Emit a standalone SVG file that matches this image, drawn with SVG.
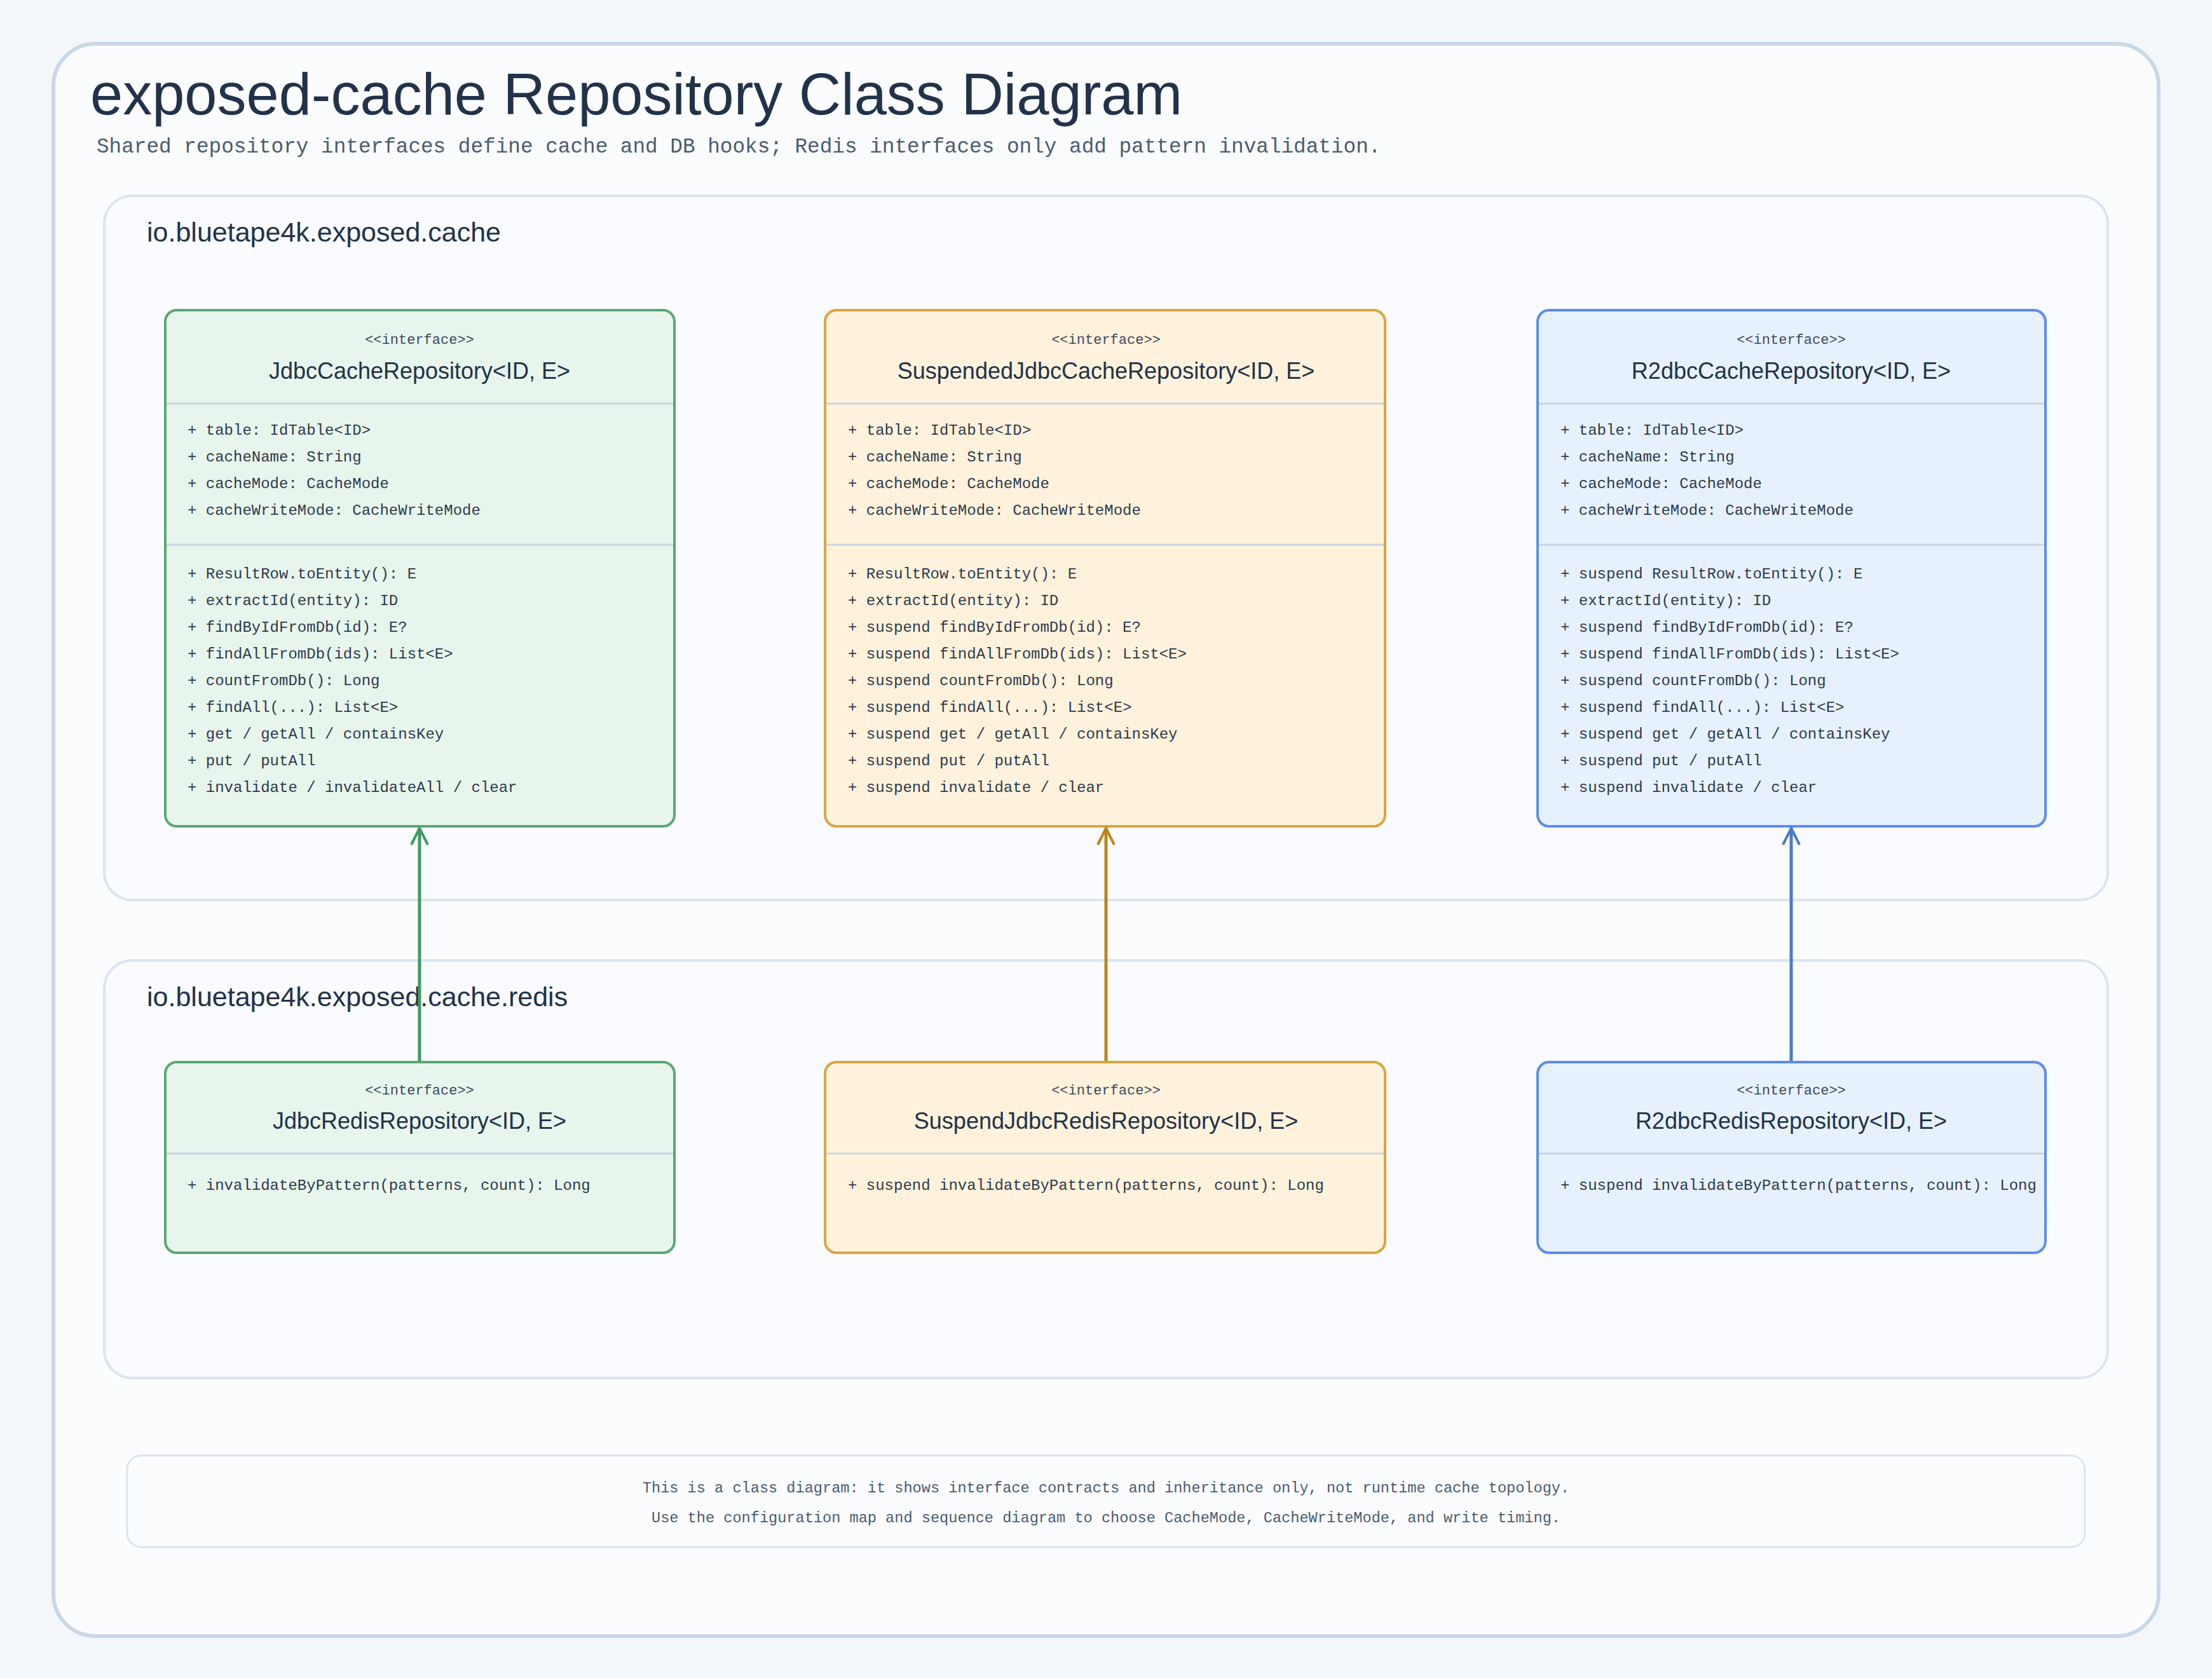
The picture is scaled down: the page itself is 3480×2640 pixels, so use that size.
<svg xmlns="http://www.w3.org/2000/svg" width="3480" height="2640" viewBox="0 0 3480 2640">
<defs>
<style>
.title{font-family:"Liberation Sans",sans-serif;font-size:92px;fill:#22324a}
.sub{font-family:"Liberation Mono",monospace;font-size:32.7px;fill:#4a5b70}
.pkg{font-family:"Liberation Sans",sans-serif;font-size:43px;fill:#22324a}
.pk{fill:#f9fbfe;stroke:#dbe5ef;stroke-width:4}
.st{font-family:"Liberation Mono",monospace;font-size:22px;fill:#3c4a5c;text-anchor:middle}
.nm{font-family:"Liberation Sans",sans-serif;font-size:36px;fill:#22324a;text-anchor:middle}
.mb{font-family:"Liberation Mono",monospace;font-size:24px;fill:#2d3a4c}
.div{stroke:#c9d5e3;stroke-width:3}
.g{fill:#e8f5ec;stroke:#5aa874;stroke-width:4}
.o{fill:#fff2dc;stroke:#d9a640;stroke-width:4}
.b{fill:#e7f1fd;stroke:#5b8def;stroke-width:4}
.ft{font-family:"Liberation Mono",monospace;font-size:23.6px;fill:#4a5b70;text-anchor:middle}
</style>
<marker id="ag" markerWidth="32" markerHeight="32" refX="29" refY="16" orient="auto" markerUnits="userSpaceOnUse" viewBox="0 0 32 32"><path d="M3,3 L29,16 L3,29" fill="none" stroke="#3f9a60" stroke-width="4"/></marker>
<marker id="ao" markerWidth="32" markerHeight="32" refX="29" refY="16" orient="auto" markerUnits="userSpaceOnUse" viewBox="0 0 32 32"><path d="M3,3 L29,16 L3,29" fill="none" stroke="#b8861c" stroke-width="4"/></marker>
<marker id="ab" markerWidth="32" markerHeight="32" refX="29" refY="16" orient="auto" markerUnits="userSpaceOnUse" viewBox="0 0 32 32"><path d="M3,3 L29,16 L3,29" fill="none" stroke="#4a7bc8" stroke-width="4"/></marker>
</defs>
<rect width="3480" height="2640" fill="#f4f7fa"/>
<rect x="84" y="69" width="3312" height="2505" rx="66" fill="#fbfcfe" stroke="#c9d8e8" stroke-width="6"/>
<text class="title" x="142" y="180">exposed-cache Repository Class Diagram</text>
<text class="sub" x="152" y="240">Shared repository interfaces define cache and DB hooks; Redis interfaces only add pattern invalidation.</text>
<g id="pkg-cache"><rect class="pk" x="164" y="308" width="3152" height="1108" rx="44"/><text class="pkg" x="231" y="380">io.bluetape4k.exposed.cache</text></g>
<g id="pkg-redis"><rect class="pk" x="164" y="1511" width="3152" height="657" rx="44"/><text class="pkg" x="231" y="1583">io.bluetape4k.exposed.cache.redis</text></g>

<g id="JdbcCacheRepository">
<rect class="g" x="260" y="488" width="801" height="812" rx="18"/>
<line class="div" x1="262" y1="635" x2="1059" y2="635"/><line class="div" x1="262" y1="857" x2="1059" y2="857"/>
<text class="st" x="660" y="541">&lt;&lt;interface&gt;&gt;</text>
<text class="nm" x="660" y="596">JdbcCacheRepository&lt;ID, E&gt;</text>
<text class="mb" x="295" y="684">+ table: IdTable&lt;ID&gt;</text>
<text class="mb" x="295" y="726">+ cacheName: String</text>
<text class="mb" x="295" y="768">+ cacheMode: CacheMode</text>
<text class="mb" x="295" y="810">+ cacheWriteMode: CacheWriteMode</text>
<text class="mb" x="295" y="910">+ ResultRow.toEntity(): E</text>
<text class="mb" x="295" y="952">+ extractId(entity): ID</text>
<text class="mb" x="295" y="994">+ findByIdFromDb(id): E?</text>
<text class="mb" x="295" y="1036">+ findAllFromDb(ids): List&lt;E&gt;</text>
<text class="mb" x="295" y="1078">+ countFromDb(): Long</text>
<text class="mb" x="295" y="1120">+ findAll(...): List&lt;E&gt;</text>
<text class="mb" x="295" y="1162">+ get / getAll / containsKey</text>
<text class="mb" x="295" y="1204">+ put / putAll</text>
<text class="mb" x="295" y="1246">+ invalidate / invalidateAll / clear</text>
</g>
<g id="SuspendedJdbcCacheRepository">
<rect class="o" x="1298" y="488" width="881" height="812" rx="18"/>
<line class="div" x1="1300" y1="635" x2="2177" y2="635"/><line class="div" x1="1300" y1="857" x2="2177" y2="857"/>
<text class="st" x="1740" y="541">&lt;&lt;interface&gt;&gt;</text>
<text class="nm" x="1740" y="596">SuspendedJdbcCacheRepository&lt;ID, E&gt;</text>
<text class="mb" x="1334" y="684">+ table: IdTable&lt;ID&gt;</text>
<text class="mb" x="1334" y="726">+ cacheName: String</text>
<text class="mb" x="1334" y="768">+ cacheMode: CacheMode</text>
<text class="mb" x="1334" y="810">+ cacheWriteMode: CacheWriteMode</text>
<text class="mb" x="1334" y="910">+ ResultRow.toEntity(): E</text>
<text class="mb" x="1334" y="952">+ extractId(entity): ID</text>
<text class="mb" x="1334" y="994">+ suspend findByIdFromDb(id): E?</text>
<text class="mb" x="1334" y="1036">+ suspend findAllFromDb(ids): List&lt;E&gt;</text>
<text class="mb" x="1334" y="1078">+ suspend countFromDb(): Long</text>
<text class="mb" x="1334" y="1120">+ suspend findAll(...): List&lt;E&gt;</text>
<text class="mb" x="1334" y="1162">+ suspend get / getAll / containsKey</text>
<text class="mb" x="1334" y="1204">+ suspend put / putAll</text>
<text class="mb" x="1334" y="1246">+ suspend invalidate / clear</text>
</g>
<g id="R2dbcCacheRepository">
<rect class="b" x="2419" y="488" width="799" height="812" rx="18"/>
<line class="div" x1="2421" y1="635" x2="3216" y2="635"/><line class="div" x1="2421" y1="857" x2="3216" y2="857"/>
<text class="st" x="2818" y="541">&lt;&lt;interface&gt;&gt;</text>
<text class="nm" x="2818" y="596">R2dbcCacheRepository&lt;ID, E&gt;</text>
<text class="mb" x="2455" y="684">+ table: IdTable&lt;ID&gt;</text>
<text class="mb" x="2455" y="726">+ cacheName: String</text>
<text class="mb" x="2455" y="768">+ cacheMode: CacheMode</text>
<text class="mb" x="2455" y="810">+ cacheWriteMode: CacheWriteMode</text>
<text class="mb" x="2455" y="910">+ suspend ResultRow.toEntity(): E</text>
<text class="mb" x="2455" y="952">+ extractId(entity): ID</text>
<text class="mb" x="2455" y="994">+ suspend findByIdFromDb(id): E?</text>
<text class="mb" x="2455" y="1036">+ suspend findAllFromDb(ids): List&lt;E&gt;</text>
<text class="mb" x="2455" y="1078">+ suspend countFromDb(): Long</text>
<text class="mb" x="2455" y="1120">+ suspend findAll(...): List&lt;E&gt;</text>
<text class="mb" x="2455" y="1162">+ suspend get / getAll / containsKey</text>
<text class="mb" x="2455" y="1204">+ suspend put / putAll</text>
<text class="mb" x="2455" y="1246">+ suspend invalidate / clear</text>
</g>
<g id="JdbcRedisRepository">
<rect class="g" x="260" y="1671" width="801" height="300" rx="18"/>
<line class="div" x1="262" y1="1815" x2="1059" y2="1815"/>
<text class="st" x="660" y="1722">&lt;&lt;interface&gt;&gt;</text>
<text class="nm" x="660" y="1776">JdbcRedisRepository&lt;ID, E&gt;</text>
<text class="mb" x="295" y="1872">+ invalidateByPattern(patterns, count): Long</text>
</g>
<g id="SuspendJdbcRedisRepository">
<rect class="o" x="1298" y="1671" width="881" height="300" rx="18"/>
<line class="div" x1="1300" y1="1815" x2="2177" y2="1815"/>
<text class="st" x="1740" y="1722">&lt;&lt;interface&gt;&gt;</text>
<text class="nm" x="1740" y="1776">SuspendJdbcRedisRepository&lt;ID, E&gt;</text>
<text class="mb" x="1334" y="1872">+ suspend invalidateByPattern(patterns, count): Long</text>
</g>
<g id="R2dbcRedisRepository">
<rect class="b" x="2419" y="1671" width="799" height="300" rx="18"/>
<line class="div" x1="2421" y1="1815" x2="3216" y2="1815"/>
<text class="st" x="2818" y="1722">&lt;&lt;interface&gt;&gt;</text>
<text class="nm" x="2818" y="1776">R2dbcRedisRepository&lt;ID, E&gt;</text>
<text class="mb" x="2455" y="1872">+ suspend invalidateByPattern(patterns, count): Long</text>
</g>
<g id="connectors" fill="none" stroke-width="5">
<line x1="660" y1="1669" x2="660" y2="1303" stroke="#3f9a60" marker-end="url(#ag)"/>
<line x1="1740" y1="1669" x2="1740" y2="1303" stroke="#b8861c" marker-end="url(#ao)"/>
<line x1="2818" y1="1669" x2="2818" y2="1303" stroke="#4a7bc8" marker-end="url(#ab)"/>
</g>
<g id="note">
<rect x="200" y="2290" width="3080" height="144" rx="22" fill="#fbfcfe" stroke="#dbe5ef" stroke-width="3"/>
<text class="ft" x="1740" y="2348">This is a class diagram: it shows interface contracts and inheritance only, not runtime cache topology.</text>
<text class="ft" x="1740" y="2395">Use the configuration map and sequence diagram to choose CacheMode, CacheWriteMode, and write timing.</text>
</g>
</svg>
